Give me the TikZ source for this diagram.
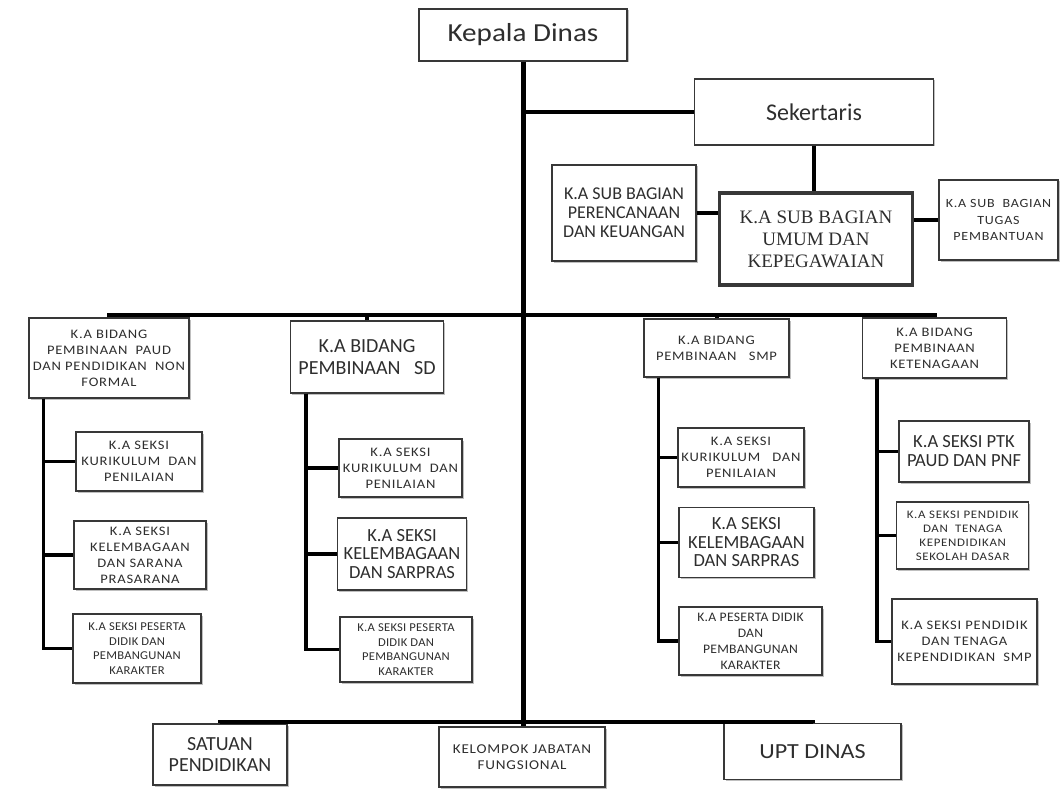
\documentclass[tikz,border=0pt]{standalone}
\usepackage{fontspec}
\setmainfont{Carlito}
\newfontfamily\serifbox{Liberation Serif}
\newfontfamily\lsw[FakeStretch=1.12,LetterSpace=6]{Carlito}
\newfontfamily\lsn[FakeStretch=1.05,LetterSpace=2]{Carlito}
\newfontfamily\wide[FakeStretch=1.12]{Carlito}
\usetikzlibrary{shadows}
\definecolor{txt}{HTML}{2E2E2E}
\definecolor{edge}{HTML}{383838}
\newcommand{\fs}[2]{\fontsize{#1}{#2}\selectfont}
\tikzset{
 box/.style={draw=edge, line width=1.4pt, fill=white, align=center, inner sep=0pt, text=txt,
   drop shadow={shadow xshift=1.5pt, shadow yshift=-1.5pt, fill=black, opacity=0.25}},
 trunkline/.style={line width=5pt, black},
 busline/.style={line width=4pt, black},
 brline/.style={line width=3.6pt, black},
 midline/.style={line width=3.2pt, black},
}
\begin{document}
\begin{tikzpicture}[x=1pt,y=-1pt]
\useasboundingbox (0,0) rectangle (1061,789);
\fill[white] (0,0) rectangle (1061,789);

% top level
\node[box, minimum width=208pt, minimum height=52pt, font={\wide\fs{26}{30}}] (kd) at (523,35) {Kepala Dinas};
\node[box, minimum width=239pt, minimum height=66pt, font={\fs{24}{27}}] (sek) at (814,112) {Sekertaris};
\node[box, minimum width=144pt, minimum height=96pt, font={\fs{18}{19}}] (per) at (624,213) {K.A SUB BAGIAN\\PERENCANAAN\\DAN KEUANGAN};
\node[box, line width=3.5pt, minimum width=193pt, minimum height=92pt, font={\serifbox\fs{19}{22}}] (umum) at (816,239) {K.A SUB BAGIAN\\UMUM DAN\\KEPEGAWAIAN};
\node[box, minimum width=119pt, minimum height=80pt, font={\lsw\fs{12.5}{16.5}}] (tug) at (998.5,220) {K.A SUB~~BAGIAN\\TUGAS\\PEMBANTUAN};

% bidang PAUD
\node[box, minimum width=160pt, minimum height=80pt, font={\lsw\fs{13}{16}}] (paud) at (109,358) {K.A BIDANG\\PEMBINAAN~~PAUD\\DAN PENDIDIKAN~~NON\\FORMAL};
\node[box, minimum width=126pt, minimum height=59pt, font={\lsw\fs{13}{16}}] (pkur) at (139,461.5) {K.A SEKSI\\KURIKULUM~~DAN\\PENILAIAN};
\node[box, minimum width=132pt, minimum height=68pt, font={\lsw\fs{13}{16}}] (pkel) at (140,555) {K.A SEKSI\\KELEMBAGAAN\\DAN SARANA\\PRASARANA};
\node[box, minimum width=128pt, minimum height=69pt, font={\lsn\fs{12}{14.5}}] (ppes) at (137,648.5) {K.A SEKSI PESERTA\\DIDIK DAN\\PEMBANGUNAN\\KARAKTER};

% bidang SD
\node[box, minimum width=153pt, minimum height=72pt, font={\fs{20}{22}}] (sd) at (367,357) {K.A BIDANG\\PEMBINAAN~~~SD};
\node[box, minimum width=123pt, minimum height=58pt, font={\lsw\fs{13}{16}}] (skur) at (400.5,468) {K.A SEKSI\\KURIKULUM~~DAN\\PENILAIAN};
\node[box, minimum width=129pt, minimum height=72pt, font={\fs{18.5}{18.5}}] (skel) at (402,554) {K.A SEKSI\\KELEMBAGAAN\\DAN SARPRAS};
\node[box, minimum width=132pt, minimum height=65pt, font={\lsn\fs{12}{14.5}}] (spes) at (406,649.5) {K.A SEKSI PESERTA\\DIDIK DAN\\PEMBANGUNAN\\KARAKTER};

% bidang SMP
\node[box, minimum width=145pt, minimum height=58pt, font={\lsw\fs{13}{16}}] (smp) at (716.5,348) {K.A BIDANG\\PEMBINAAN~~~SMP};
\node[box, minimum width=126pt, minimum height=59pt, font={\lsw\fs{13}{16}}] (mkur) at (741,457.5) {K.A SEKSI\\KURIKULUM~~~DAN\\PENILAIAN};
\node[box, minimum width=135pt, minimum height=70pt, font={\fs{18.5}{18.5}}] (mkel) at (746.5,542.5) {K.A SEKSI\\KELEMBAGAAN\\DAN SARPRAS};
\node[box, minimum width=143pt, minimum height=68pt, font={\lsn\fs{13}{16}}] (mpes) at (750.5,641) {K.A PESERTA DIDIK\\DAN\\PEMBANGUNAN\\KARAKTER};

% bidang ketenagaan
\node[box, minimum width=144pt, minimum height=60pt, font={\lsw\fs{13}{16}}] (ket) at (934.6,348) {K.A BIDANG\\PEMBINAAN\\KETENAGAAN};
\node[box, minimum width=130pt, minimum height=61pt, font={\fs{18.5}{19}}] (tptk) at (964,451.5) {K.A SEKSI PTK\\PAUD DAN PNF};
\node[box, minimum width=132pt, minimum height=67pt, font={\lsw\fs{11.5}{14}}] (tsd) at (962.7,535.5) {K.A SEKSI PENDIDIK\\DAN~~TENAGA\\KEPENDIDIKAN\\SEKOLAH DASAR};
\node[box, minimum width=145pt, minimum height=85pt, font={\lsw\fs{13}{16}}] (tsmp) at (964.5,641.5) {K.A SEKSI PENDIDIK\\DAN TENAGA\\KEPENDIDIKAN~~SMP};

% bottom
\node[box, minimum width=134pt, minimum height=61pt, font={\fs{20}{21.5}}] (sat) at (220,754.5) {SATUAN\\PENDIDIKAN};
\node[box, minimum width=166pt, minimum height=60pt, font={\lsw\fs{13.5}{16}}] (kel) at (522,757) {KELOMPOK JABATAN\\FUNGSIONAL};
\node[box, minimum width=177pt, minimum height=56pt, font={\wide\fs{21.5}{26}}] (upt) at (812.5,751.5) {UPT DINAS};

\coordinate (busy) at (0,315);
\coordinate (bby) at (0,722);

% connectors
\draw[trunkline] (kd.south) -- (kd.south |- kel.north);
\draw[midline] (sek.west) -- (sek.west -| kd.south);
\draw[brline] (sek.south) -- (sek.south |- umum.north);
\draw[brline] (per.east) -- (per.east -| umum.west);
\draw[brline] (tug.west) -- (tug.west -| umum.east);

\draw[busline] (paud.north) |- (busy -| ket.north) -- (ket.north);
\draw[busline] (sd.north) -- (sd.north |- busy);
\draw[busline] (smp.north) -- (smp.north |- busy);

\draw[brline] ([xshift=15pt]paud.south west) |- (pkur.west);
\draw[brline] ([xshift=15pt]paud.south west) |- (pkel.west);
\draw[brline] ([xshift=15pt]paud.south west) |- (ppes.west);

\draw[brline] ([xshift=16pt]sd.south west) |- (skur.west);
\draw[brline] ([xshift=16pt]sd.south west) |- (skel.west);
\draw[brline] ([xshift=16pt]sd.south west) |- (spes.west);

\draw[brline] ([xshift=15pt]smp.south west) |- (mkur.west);
\draw[brline] ([xshift=15pt]smp.south west) |- (mkel.west);
\draw[brline] ([xshift=15pt]smp.south west) |- (mpes.west);

\draw[brline] ([xshift=15pt]ket.south west) |- (tptk.west);
\draw[brline] ([xshift=15pt]ket.south west) |- (tsd.west);
\draw[brline] ([xshift=15pt]ket.south west) |- (tsmp.west);

\draw[busline] (sat.north) |- (bby -| upt.north) -- (upt.north);
\end{tikzpicture}
\end{document}
